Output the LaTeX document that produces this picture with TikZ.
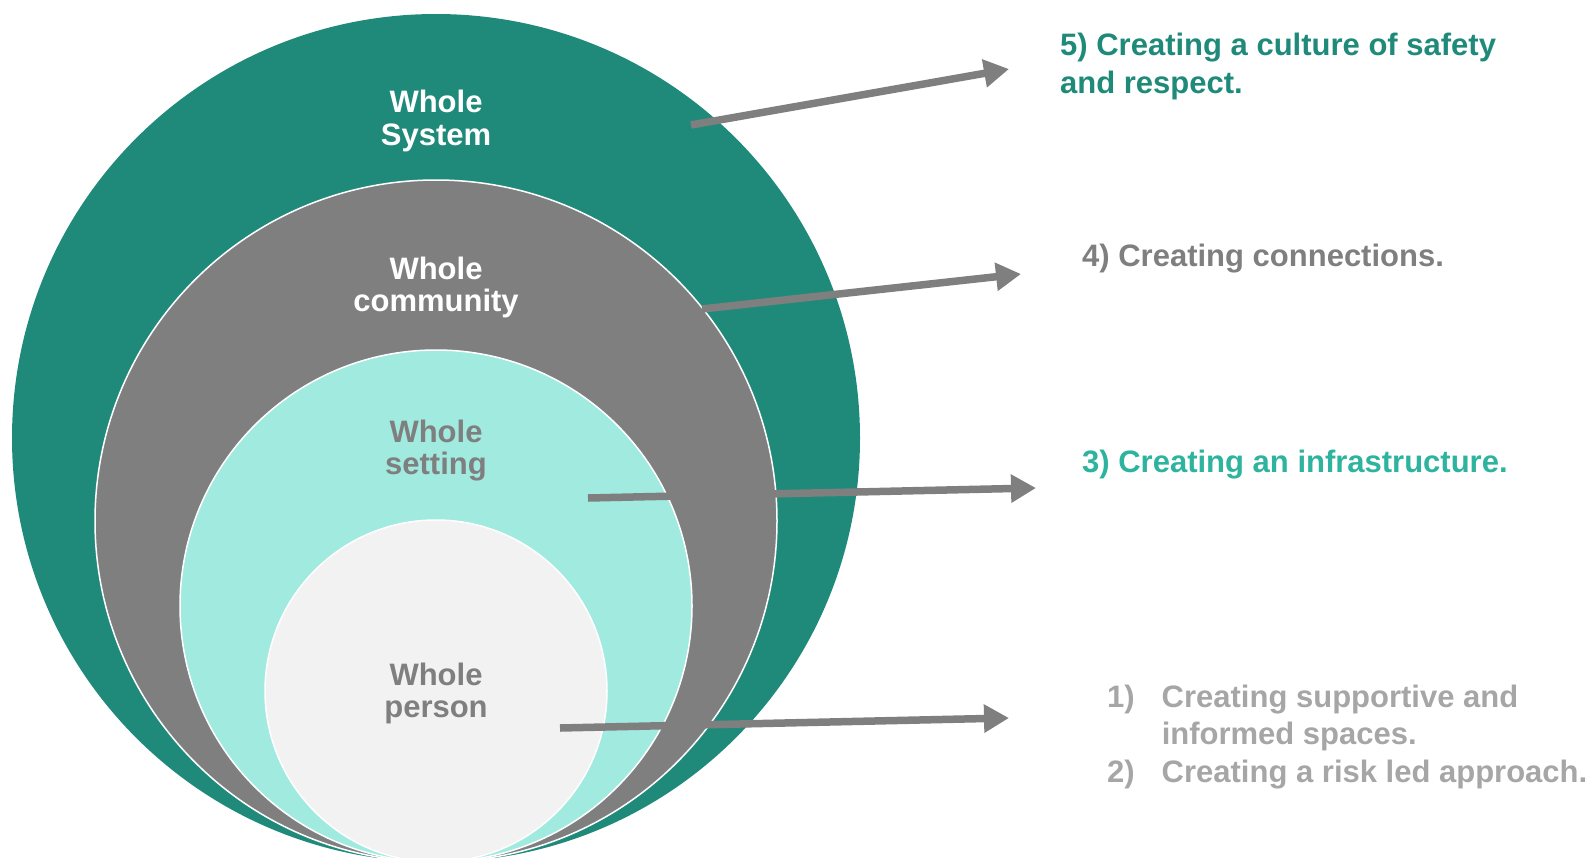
\documentclass[tikz,border=0pt]{standalone}
\usepackage{fontspec}
\setmainfont{Liberation Sans}
\usepackage{xcolor}
\usetikzlibrary{arrows.meta}
\definecolor{sysgreen}{HTML}{1F8A7A}
\definecolor{comgray}{HTML}{7F7F7F}
\definecolor{setcyan}{HTML}{A0EADF}
\definecolor{perwhite}{HTML}{F2F2F2}
\definecolor{infragreen}{HTML}{2DB39E}
\definecolor{listgray}{HTML}{A6A6A6}

\begin{document}
\begin{tikzpicture}[x=1pt, y=-1pt,
  ring/.style={draw=white, line width=1.5pt},
  ringlabel/.style={font=\fontsize{31}{32.5}\selectfont\bfseries, align=center, anchor=base, inner sep=0pt},
  goal/.style={font=\fontsize{31}{37.5}\selectfont\bfseries, align=left, anchor=base west, inner sep=0pt},
  link/.style={-{Triangle[length=25pt, width=27pt]}, line width=7.5pt, draw=comgray}]

\useasboundingbox (0,0) rectangle (1590,857);

%% === Nested circles, touching at the bottom ===
\fill[sysgreen] (436,438) circle (424pt);
\filldraw[ring, fill=comgray] (436,521) circle (341pt);
\filldraw[ring, fill=setcyan] (436,606) circle (256pt);
\filldraw[ring, fill=perwhite] (436,691) circle (171pt);

% circle labels (base = last line)
\node[ringlabel, text=white] (system) at (436,145) {Whole\\System};
\node[ringlabel, text=white] (community) at (436,311.5) {Whole\\community};
\node[ringlabel, text=comgray] (setting) at (436,474.5) {Whole\\setting};
\node[ringlabel, text=comgray] (person) at (436,717.5) {Whole\\person};

%% === Goals on the right ===
\node[goal, text=sysgreen] (safety) at (1060,93)
  {5) Creating a culture of safety\\and respect.};
\node[goal, text=comgray] (connect) at (1082,266.5) {4) Creating connections.};
\node[goal, text=infragreen] (infra) at (1082,472) {3) Creating an infrastructure.};
\node[goal, text=listgray] (spaces) at (1107,707)
  {\begin{tabular}[t]{@{}l@{\hspace{27pt}}l@{}}
    1) & Creating supportive and\\
       & informed spaces.\\
    2) & Creating a risk led approach.
   \end{tabular}};

%% === Arrows ===
\coordinate (s5) at (691,125);  \coordinate (t5) at (1009,69);
\coordinate (s4) at (702,309);  \coordinate (t4) at (1021,274);
\coordinate (s3) at (588,498);  \coordinate (t3) at (1036,488);
\coordinate (s1) at (560,728);  \coordinate (t1) at (1009,718);
\draw[link] (s5) -- (t5);
\draw[link] (s4) -- (t4);
\draw[link] (s3) -- (t3);
\draw[link] (s1) -- (t1);

\end{tikzpicture}
\end{document}
